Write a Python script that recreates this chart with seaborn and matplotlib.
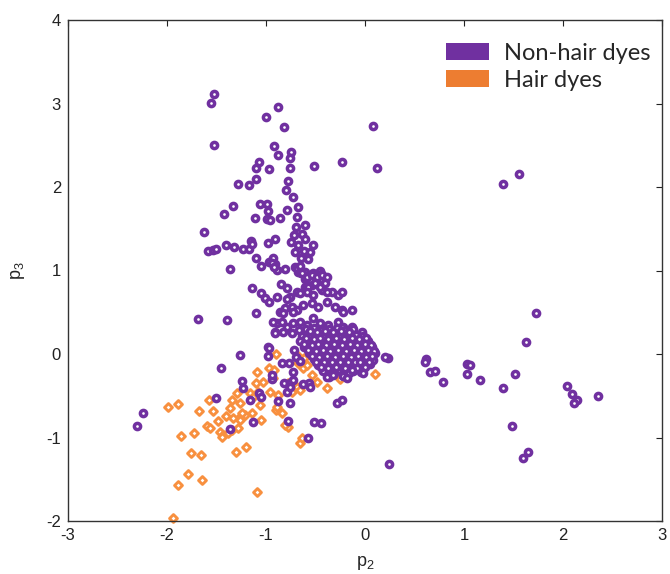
import matplotlib
matplotlib.use("Agg")
import matplotlib.pyplot as plt
import seaborn as sns
import pandas as pd
from matplotlib.patches import Patch

# ---------------- data (p2, p3) ----------------
nonhair_upper = [
    (-1.53, 3.11), (-1.56, 3.01), (-0.88, 2.96), (-1.00, 2.84), (-0.82, 2.72), (0.08, 2.73),
    (-1.53, 2.50), (-0.92, 2.49), (-0.88, 2.38), (-0.75, 2.42), (-0.76, 2.35), (-1.07, 2.30),
    (-1.10, 2.23), (-0.97, 2.22), (-0.76, 2.23), (-0.52, 2.25), (-0.23, 2.30), (0.12, 2.23),
    (-1.28, 2.04), (-1.17, 2.02), (-1.10, 2.10), (-0.78, 2.07), (-0.80, 1.96), (-0.73, 1.88),
    (-1.33, 1.77), (-1.42, 1.68), (-1.06, 1.80), (-0.99, 1.80), (-0.98, 1.71), (-1.11, 1.63),
    (-0.99, 1.62), (-0.96, 1.60), (-0.86, 1.63), (-0.79, 1.72), (-0.68, 1.76), (-0.69, 1.64),
    (-0.70, 1.52), (-0.61, 1.54), (-1.63, 1.46), (-0.64, 1.44), (-0.72, 1.43), (-0.61, 1.38),
    (-0.75, 1.34), (-0.68, 1.31), (-0.53, 1.31), (-1.40, 1.31), (-1.32, 1.28), (-1.59, 1.23),
    (-1.54, 1.25), (-1.51, 1.26), (-1.23, 1.26), (-1.17, 1.26), (-1.15, 1.35), (-1.14, 1.32),
    (-0.98, 1.33), (-0.91, 1.38), (-0.71, 1.22), (-0.62, 1.23), (-0.56, 1.22), (-0.65, 1.15),
    (-0.58, 1.14), (-1.10, 1.15), (-0.93, 1.15), (-0.97, 1.10), (-0.91, 1.08), (-0.89, 1.01),
    (-0.81, 1.02), (-1.05, 1.05), (-1.36, 1.02), (-0.71, 1.04), (-0.68, 0.98), (-0.61, 0.98),
    (-0.53, 0.97), (-0.45, 0.99), (-0.44, 0.96),
]

nonhair_middle = [
    (-0.94, 1.09), (-0.92, 1.04), (-0.65, 0.97), (-0.61, 0.90), (-1.14, 0.79), (-1.05, 0.73),
    (-1.01, 0.67), (-0.97, 0.62), (-0.85, 0.84), (-0.79, 0.79), (-1.10, 0.49), (-0.89, 0.68),
    (-0.76, 0.68), (-0.69, 0.74), (-0.61, 0.80), (-0.54, 0.83), (-0.48, 0.85), (-0.43, 0.77),
    (-0.33, 0.74), (-0.27, 0.71), (-0.23, 0.74), (-0.74, 0.56), (-0.69, 0.53), (-0.63, 0.59),
    (-0.54, 0.61), (-0.47, 0.56), (-0.38, 0.62), (-0.30, 0.56), (-0.23, 0.53), (-0.13, 0.53),
    (-0.89, 0.37), (-0.84, 0.38), (-0.79, 0.32), (-0.73, 0.37), (-0.66, 0.38), (-0.59, 0.35),
    (-0.53, 0.43), (-0.45, 0.37), (-0.37, 0.35), (-0.91, 0.26), (-0.83, 0.26), (-0.74, 0.25),
    (-0.67, 0.29), (-0.22, 0.32), (-0.13, 0.32), (-0.03, 0.26), (0.05, 0.11), (-0.58, 0.80),
    (-0.51, 0.85), (-0.45, 0.80), (-0.40, 0.85), (-0.66, 0.73), (-0.59, 0.74), (-0.53, 0.71),
    (-0.38, 0.74), (-0.64, 0.97), (-0.59, 0.92), (-0.54, 0.95), (-0.48, 0.92), (-0.43, 0.95),
    (-0.38, 0.92), (-0.69, 1.03), (-0.66, 1.05), (-0.79, 0.66), (-0.81, 0.55), (-0.73, 0.50),
    (-0.86, 0.50), (-0.83, 0.49), (-0.93, 0.38), (-0.22, 0.50), (-0.27, 0.38), (-0.03, 0.20),
    (-1.39, 0.41), (-1.69, 0.42), (-0.98, 0.08), (-0.91, 0.25),
]

nonhair_core = [
    (-0.60, 0.30), (-0.52, 0.31), (-0.44, 0.29), (-0.36, 0.30), (-0.28, 0.31), (-0.20, 0.29), (-0.12, 0.30),
    (-0.64, 0.22), (-0.56, 0.23), (-0.49, 0.21), (-0.41, 0.22), (-0.33, 0.23), (-0.25, 0.21),
    (-0.17, 0.22), (-0.09, 0.23), (-0.02, 0.21),
    (-0.66, 0.15), (-0.58, 0.14), (-0.50, 0.16), (-0.43, 0.15), (-0.35, 0.14), (-0.27, 0.16),
    (-0.19, 0.15), (-0.11, 0.14), (-0.04, 0.16), (0.03, 0.15),
    (-0.62, 0.08), (-0.54, 0.07), (-0.46, 0.09), (-0.38, 0.08), (-0.31, 0.07), (-0.23, 0.09),
    (-0.15, 0.08), (-0.07, 0.07), (0.00, 0.09), (0.07, 0.08),
    (-0.57, 0.01), (-0.49, 0.02), (-0.41, 0.00), (-0.33, 0.01), (-0.26, 0.02), (-0.18, 0.00),
    (-0.10, 0.01), (-0.03, 0.02), (0.05, 0.00), (0.10, 0.01),
    (-0.52, -0.06), (-0.44, -0.05), (-0.36, -0.07), (-0.29, -0.06), (-0.21, -0.05), (-0.13, -0.07),
    (-0.06, -0.06), (0.02, -0.05), (0.08, -0.07),
    (-0.47, -0.13), (-0.39, -0.12), (-0.31, -0.14), (-0.24, -0.13), (-0.16, -0.12), (-0.08, -0.14),
    (-0.01, -0.13), (0.05, -0.12),
    (-0.42, -0.20), (-0.34, -0.21), (-0.27, -0.19), (-0.12, -0.20), (-0.04, -0.21),
    (-0.36, -0.27), (-0.22, -0.26),
    (-0.72, 0.05), (-0.70, -0.03), (-0.66, -0.08),
]

nonhair_core_fill = [
    (-0.56, 0.27), (-0.48, 0.26), (-0.40, 0.27), (-0.32, 0.26), (-0.24, 0.27), (-0.16, 0.26),
    (-0.60, 0.19), (-0.52, 0.18), (-0.45, 0.19), (-0.37, 0.18), (-0.29, 0.19), (-0.21, 0.18),
    (-0.13, 0.19), (-0.06, 0.18), (0.01, 0.19),
    (-0.62, 0.12), (-0.54, 0.11), (-0.47, 0.12), (-0.39, 0.11), (-0.31, 0.12), (-0.23, 0.11),
    (-0.15, 0.12), (-0.08, 0.11), (0.00, 0.12), (0.06, 0.11),
    (-0.58, 0.05), (-0.50, 0.04), (-0.42, 0.05), (-0.35, 0.04), (-0.27, 0.05), (-0.19, 0.04),
    (-0.11, 0.05), (-0.04, 0.04), (0.03, 0.05), (0.09, 0.04),
    (-0.54, -0.02), (-0.46, -0.03), (-0.38, -0.02), (-0.30, -0.03), (-0.22, -0.02), (-0.14, -0.03),
    (-0.07, -0.02), (0.01, -0.03), (0.07, -0.02),
    (-0.49, -0.09), (-0.41, -0.10), (-0.33, -0.09), (-0.25, -0.10), (-0.17, -0.09), (-0.10, -0.10),
    (-0.03, -0.09), (0.04, -0.10),
    (-0.44, -0.16), (-0.37, -0.17), (-0.29, -0.16), (-0.20, -0.17), (-0.08, -0.17), (0.00, -0.16),
    (-0.31, -0.23), (-0.16, -0.23),
]

nonhair_lower = [
    (-1.26, -0.01), (-0.97, 0.07), (-0.98, -0.02), (-1.45, -0.17), (-0.84, -0.11), (-0.73, -0.22),
    (-0.77, -0.11), (-1.24, -0.32), (-1.23, -0.41), (-0.94, -0.30), (-0.82, -0.35), (-0.76, -0.35),
    (-0.79, -0.46), (-0.63, -0.36), (-0.57, -0.35), (-1.07, -0.47), (-1.05, -0.51), (-1.16, -0.55),
    (-1.51, -0.53), (-0.88, -0.56), (-0.76, -0.59), (-2.24, -0.71), (-2.30, -0.86), (-1.13, -0.81),
    (-1.36, -0.90), (-0.78, -0.80), (-0.52, -0.81), (-0.44, -0.83), (-0.58, -1.01), (-0.28, -0.59),
    (-0.23, -0.55), (-0.13, -0.19), (-0.02, -0.23), (-0.18, -0.29), (-0.38, -0.28), (-0.32, -0.25),
    (-0.73, -0.31), (-0.94, -0.25), (0.23, -0.05), (0.24, -1.32), (-0.76, -0.40), (-0.56, -0.40),
    (0.20, -0.04), (-0.05, -0.10),
]

nonhair_right = [
    (1.56, 2.16), (1.39, 2.04), (1.73, 0.49), (1.63, 0.14), (0.62, -0.06), (0.61, -0.09),
    (0.66, -0.22), (0.71, -0.20), (0.79, -0.34), (1.03, -0.12), (1.06, -0.13), (1.03, -0.24),
    (1.16, -0.31), (1.52, -0.24), (1.39, -0.41), (2.04, -0.38), (2.09, -0.48), (2.14, -0.55),
    (2.11, -0.59), (2.35, -0.50), (1.48, -0.86), (1.65, -1.17), (1.60, -1.25),
]

hair = [
    (-0.90, 0.00), (-1.09, -0.22), (-0.97, -0.17), (-0.92, -0.19), (-1.10, -0.35), (-1.03, -0.34),
    (-1.29, -0.47), (-1.16, -0.47), (-1.08, -0.46), (-0.96, -0.46), (-0.88, -0.49), (-1.58, -0.55),
    (-1.34, -0.55), (-1.26, -0.59), (-1.36, -0.65), (-1.06, -0.61), (-1.13, -0.51), (-1.99, -0.63),
    (-1.89, -0.60), (-1.68, -0.68), (-1.54, -0.68), (-1.48, -0.80), (-1.40, -0.74), (-1.26, -0.75),
    (-1.21, -0.73), (-1.14, -0.71), (-1.60, -0.86), (-1.57, -0.89), (-1.46, -0.93), (-1.43, -0.97),
    (-1.38, -0.95), (-1.34, -0.91), (-1.28, -0.89), (-1.26, -0.79), (-1.73, -0.95), (-1.86, -0.98),
    (-1.05, -0.79), (-0.90, -0.67), (-0.84, -0.71), (-0.78, -0.87), (-0.66, -1.07), (-0.64, -1.01),
    (-1.76, -1.19), (-1.66, -1.21), (-1.30, -1.17), (-1.20, -1.11), (-1.79, -1.44), (-1.65, -1.51),
    (-1.89, -1.57), (-1.09, -1.65), (-1.94, -1.97), (-0.78, -0.35), (-0.69, -0.40), (-0.66, -0.43),
    (-0.63, -0.17), (-0.68, -0.11), (-0.59, -0.13), (-0.48, -0.34), (-0.38, -0.41), (-0.54, -0.25),
    (-0.43, 0.23), (0.10, -0.24), (-0.81, -0.85), (-1.44, -0.99), (-0.93, -0.29), (-1.33, -0.77),
    (-1.24, -0.71), (-0.89, -0.63), (-0.74, -0.46), (-0.35, -0.20), (-0.20, -0.20), (-0.25, -0.30),
    (-0.68, -0.02), (-0.62, -0.05),
]

series_labels = ["Non-hair dyes", "Hair dyes"]
x_ticks = [-3, -2, -1, 0, 1, 2, 3]
y_ticks = [-2, -1, 0, 1, 2, 3, 4]

purple = "#7030A0"
orange_marker = "#F8903F"
orange_legend = "#ED7D31"

# ---------------- figure ----------------
sns.set_theme(style="white")
plt.rcParams['font.family'] = ['Liberation Sans', 'DejaVu Sans']
plt.rcParams['mathtext.default'] = 'regular'
plt.rcParams['axes.unicode_minus'] = False

df_non = pd.DataFrame(nonhair_upper + nonhair_middle + nonhair_core + nonhair_core_fill
                      + nonhair_lower + nonhair_right, columns=["p2", "p3"])
df_hair = pd.DataFrame(hair, columns=["p2", "p3"])

fig = plt.figure(figsize=(6.7, 5.74), dpi=100)
ax = fig.add_axes([68 / 670, 1 - 521 / 574, 594 / 670, 501 / 574])

sns.scatterplot(data=df_hair, x="p2", y="p3", marker="D", s=16,
                facecolor="white", edgecolor=orange_marker, linewidth=2.1,
                ax=ax, legend=False, zorder=2, clip_on=False)
sns.scatterplot(data=df_non, x="p2", y="p3", marker="o", s=20,
                facecolor="white", edgecolor=purple, linewidth=2.5,
                ax=ax, legend=False, zorder=3)

ax.set_xlim(-3, 3)
ax.set_ylim(-2, 4)
ax.set_xticks(x_ticks)
ax.set_yticks(y_ticks)
ax.tick_params(direction="in", top=True, right=True, length=4, width=0.8,
               labelsize=12, colors="#222222", pad=5)
for sp in ax.spines.values():
    sp.set_color("#333333")
    sp.set_linewidth(1.0)

ax.set_xlabel("p$_2$", fontsize=13, labelpad=8)
ax.set_ylabel("p$_3$", fontsize=13, labelpad=14)

handles = [Patch(facecolor=purple, edgecolor="none", label=series_labels[0]),
           Patch(facecolor=orange_legend, edgecolor="none", label=series_labels[1])]
leg = fig.legend(handles=handles, loc="upper left", bbox_to_anchor=(446 / 670, 1 - 43 / 574),
                 frameon=False, borderpad=0, borderaxespad=0, handlelength=1.8,
                 handleheight=0.7, handletextpad=0.65, labelspacing=0.25,
                 prop={"family": "Lato", "size": 17})

fig.savefig("out.png", dpi=100)
